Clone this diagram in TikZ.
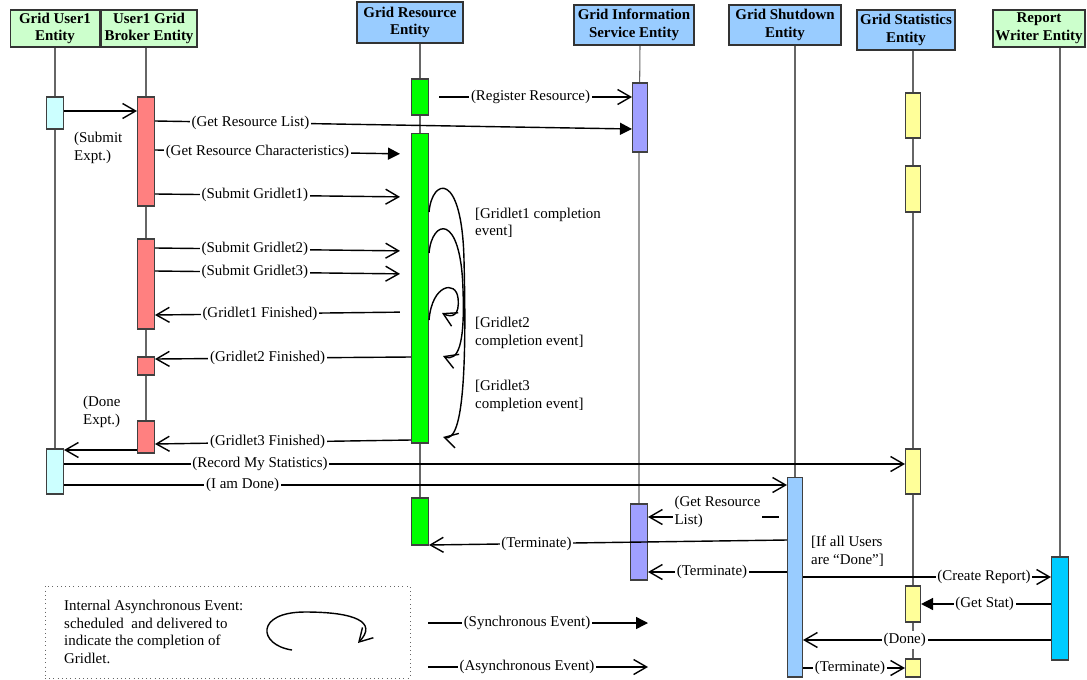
\documentclass[tikz,border=0pt]{standalone}
\usepackage{fontspec}
\setmainfont{Liberation Serif}
\usepackage{xcolor}
\usepackage{tikz}
\usetikzlibrary{arrows.meta}
\usetikzlibrary{backgrounds}
\definecolor{hdrgreen}{HTML}{CCFFCC}
\definecolor{hdrblue}{HTML}{99CCFF}
\definecolor{usercol}{HTML}{CCFFFF}
\definecolor{brkcol}{HTML}{FF8080}
\definecolor{rescol}{HTML}{00FF00}
\definecolor{giscol}{HTML}{A0A0FF}
\definecolor{shdcol}{HTML}{99CCFF}
\definecolor{statcol}{HTML}{FFFF99}
\definecolor{rptcol}{HTML}{00CCFF}
\tikzset{
    hdr/.style = {rectangle, draw=black!80, line width=0.8pt, align=center, font=\fontsize{8.5}{10}\selectfont\bfseries, inner sep=1pt},
    actbar/.style = {rectangle, draw=black!75, line width=0.6pt, minimum width=0.34cm, inner sep=0pt},
    lifeline/.style = {draw=black!60, line width=0.6pt},
    msgA/.style = {line width=0.8pt, -{Straight Barb[length=0.26cm, width=0.3cm, line width=0.8pt]}},
    msgS/.style = {line width=0.8pt, -{Triangle[length=0.24cm, width=0.24cm]}},
    lbl/.style = {fill=white, inner sep=1pt},
}
\begin{document}
\begin{tikzpicture}[x=0.02cm, y=-0.02cm, font=\fontsize{8.5}{10}\selectfont]
  \useasboundingbox (0,0) rectangle (1087,679);
  % entities
  \node[hdr, fill=hdrgreen, minimum width=1.78cm, minimum height=0.74cm] (hU1) at (55,28.5) {Grid User1\\Entity};
  \node[hdr, fill=hdrgreen, minimum width=1.92cm, minimum height=0.74cm] (hBrk) at (149,28.5) {User1 Grid\\Broker Entity};
  \node[hdr, fill=hdrblue, minimum width=2.12cm, minimum height=0.82cm] (hRes) at (410,22.5) {Grid Resource\\Entity};
  \node[hdr, fill=hdrblue, minimum width=2.4cm, minimum height=0.8cm] (hGis) at (634,25) {Grid Information\\Service Entity};
  \node[hdr, fill=hdrblue, minimum width=2.24cm, minimum height=0.8cm] (hShd) at (785,25) {Grid Shutdown\\Entity};
  \node[hdr, fill=hdrblue, minimum width=1.96cm, minimum height=0.8cm] (hSt) at (906,30) {Grid Statistics\\Entity};
  \node[hdr, fill=hdrgreen, minimum width=1.84cm, minimum height=0.74cm] (hRpt) at (1039,28.5) {Report\\Writer Entity};

  % activation bars
  \node[actbar, fill=usercol, minimum height=0.64cm] (u1A) at (55,113) {};
  \node[actbar, fill=usercol, minimum height=0.9cm] (u1B) at (55,471.5) {};
  \node[actbar, fill=brkcol, minimum height=2.18cm] (brkA) at (146,151.5) {};
  \node[actbar, fill=brkcol, minimum height=1.8cm] (brkB) at (146,284) {};
  \node[actbar, fill=brkcol, minimum height=0.36cm] (brkC) at (146,366) {};
  \node[actbar, fill=brkcol, minimum height=0.64cm] (brkD) at (146,437) {};
  \node[actbar, fill=rescol, minimum height=0.72cm] (resA) at (420,97) {};
  \node[actbar, fill=rescol, minimum height=6.2cm] (resB) at (420,288) {};
  \node[actbar, fill=rescol, minimum height=0.94cm] (resC) at (420,521.5) {};
  \node[actbar, fill=giscol, minimum width=0.3cm, minimum height=1.38cm] (gisA) at (640,117.5) {};
  \node[actbar, fill=giscol, minimum height=1.52cm] (gisB) at (639,542) {};
  \node[actbar, fill=shdcol, minimum width=0.3cm, minimum height=4cm] (shdA) at (795,577) {};
  \node[actbar, fill=statcol, minimum width=0.3cm, minimum height=0.9cm] (stA) at (913,115.5) {};
  \node[actbar, fill=statcol, minimum width=0.3cm, minimum height=0.92cm] (stB) at (913,189) {};
  \node[actbar, fill=statcol, minimum width=0.3cm, minimum height=0.9cm] (stC) at (913,471.5) {};
  \node[actbar, fill=statcol, minimum width=0.3cm, minimum height=0.72cm] (stD) at (913,604) {};
  \node[actbar, fill=statcol, minimum width=0.3cm, minimum height=0.36cm] (stE) at (913,668) {};
  \node[actbar, fill=rptcol, minimum height=2.06cm] (rptA) at (1060,608.5) {};

  % lifelines
  \begin{scope}[on background layer]
    \draw[lifeline] (hU1.south -| u1A) -- (u1B.south);
    \draw[lifeline] (hBrk.south -| brkA) -- (brkD.south);
    \draw[lifeline] (hRes.south -| resA) -- (resC.south);
    \draw[lifeline] (hGis.south -| gisA) -- (gisA.south -| gisB) -- (gisB.south);
    \draw[lifeline] (hShd.south -| shdA) -- (shdA.north);
    \draw[lifeline] (hSt.south -| stA) -- (stE.north);
    \draw[lifeline] (hRpt.south -| rptA) -- (rptA.north);
  \end{scope}

  % messages
  \draw[msgA] (u1A.east |- 0,111) -- (brkA.west |- 0,111);
  \draw[msgA, shorten <=0.2cm] (resA.east |- 0,97) -- node[lbl]{(Register Resource)} (gisA.west |- 0,97);
  \draw[msgS] (brkA.east |- 0,121) -- node[lbl, pos=0.2]{(Get Resource List)} (gisA.west |- 0,129);
  \draw[msgS, shorten >=0.22cm] (brkA.east |- 0,150) -- node[lbl, pos=0.4]{(Get Resource Characteristics)} (resB.west |- 0,154);
  \draw[msgA, shorten >=0.22cm] (brkA.east |- 0,194) -- node[lbl, pos=0.39]{(Submit Gridlet1)} (resB.west |- 0,197);
  \draw[msgA, shorten >=0.22cm] (brkB.east |- 0,248) -- node[lbl, pos=0.39]{(Submit Gridlet2)} (resB.west |- 0,251);
  \draw[msgA, shorten >=0.22cm] (brkB.east |- 0,271) -- node[lbl, pos=0.39]{(Submit Gridlet3)} (resB.west |- 0,274);
  \draw[msgA, shorten <=0.22cm] (resB.west |- 0,312) -- node[lbl, pos=0.59]{(Gridlet1 Finished)} (brkB.east |- 0,315);
  \draw[msgA] (resB.west |- 0,357) -- node[lbl, pos=0.56]{(Gridlet2 Finished)} (brkC.east |- 0,359);
  \draw[msgA] (resB.west |- 0,440) -- node[lbl, pos=0.56]{(Gridlet3 Finished)} (brkD.east |- 0,444);
  \draw[msgA] (brkD.west |- 0,450) -- (u1B.east |- 0,450);
  \draw[msgA] (u1B.east |- 0,464) -- node[lbl, pos=0.233]{(Record My Statistics)} (stC.west |- 0,464);
  \draw[msgA] (u1B.east |- 0,485) -- node[lbl, pos=0.247]{(I am Done)} (shdA.west |- 0,485);
  \draw[msgA, shorten <=0.16cm] (shdA.west |- 0,517) -- node[lbl, align=left, yshift=0.1cm]{(Get Resource\\List)} (gisB.east |- 0,517);
  \draw[msgA] (shdA.west |- 0,540) -- node[lbl, pos=0.7]{(Terminate)} (resC.east |- 0,545);
  \draw[msgA] (shdA.west |- 0,572) -- node[lbl, pos=0.54]{(Terminate)} (gisB.east |- 0,572);
  \draw[msgA] (shdA.east |- 0,577) -- node[lbl, pos=0.73]{(Create Report)} (rptA.west |- 0,577);
  \draw[msgS] (rptA.west |- 0,604) -- node[lbl, pos=0.51]{(Get Stat)} (stD.east |- 0,604);
  \draw[msgA] (rptA.west |- 0,640) -- node[lbl, pos=0.59]{(Done)} (shdA.east |- 0,640);
  \draw[msgA] (shdA.east |- 0,668) -- node[lbl, pos=0.46]{(Terminate)} (stE.west |- 0,668);

  % completion events
  \draw[msgA] (resB.east |- 0,212) .. controls (432,178) and (462,170) .. (464,260) .. controls (467,380) and (462,442) .. (443,437);
  \draw[msgA] (resB.east |- 0,253) .. controls (432,219) and (461,212) .. (463,290) .. controls (465,345) and (458,362) .. (443,356);
  \draw[msgA] (resB.east |- 0,320) .. controls (432,284) and (456,280) .. (458,298) .. controls (460,316) and (452,318) .. (442,313);

  % notes
  \node[align=left, anchor=west] (subExp) at (68,148) {(Submit\\Expt.)};
  \node[align=left, anchor=west] (doneExp) at (77,412) {(Done\\Expt.)};
  \node[align=left, anchor=west] (g1ev) at (469,223) {[Gridlet1 completion\\event]};
  \node[align=left, anchor=west] (g2ev) at (469,333) {[Gridlet2\\completion event]};
  \node[align=left, anchor=west] (g3ev) at (469,396) {[Gridlet3\\completion event]};
  \node[align=left, anchor=west] (ifAll) at (805,551) {[If all Users\\are “Done”]};

  % legend
  \node[draw=black!60, dotted, minimum width=7.3cm, minimum height=1.84cm] (legend) at (227.5,632) {};
  \node[align=left, anchor=west] (legTxt) at (58,632) {Internal Asynchronous Event:\\scheduled~ and delivered to\\indicate the completion of\\Gridlet.};
  \draw[msgA] (292,650) .. controls (258,645) and (255,612) .. (305,612) .. controls (355,612) and (378,622) .. (358,643);
  \coordinate (syncS) at (428,623);
  \coordinate (syncE) at (648,623);
  \draw[msgS] (syncS) -- node[lbl, pos=0.45]{(Synchronous Event)} (syncE);
  \coordinate (asyncS) at (428,667);
  \coordinate (asyncE) at (648,667);
  \draw[msgA] (asyncS) -- node[lbl, pos=0.45]{(Asynchronous Event)} (asyncE);
\end{tikzpicture}
\end{document}
